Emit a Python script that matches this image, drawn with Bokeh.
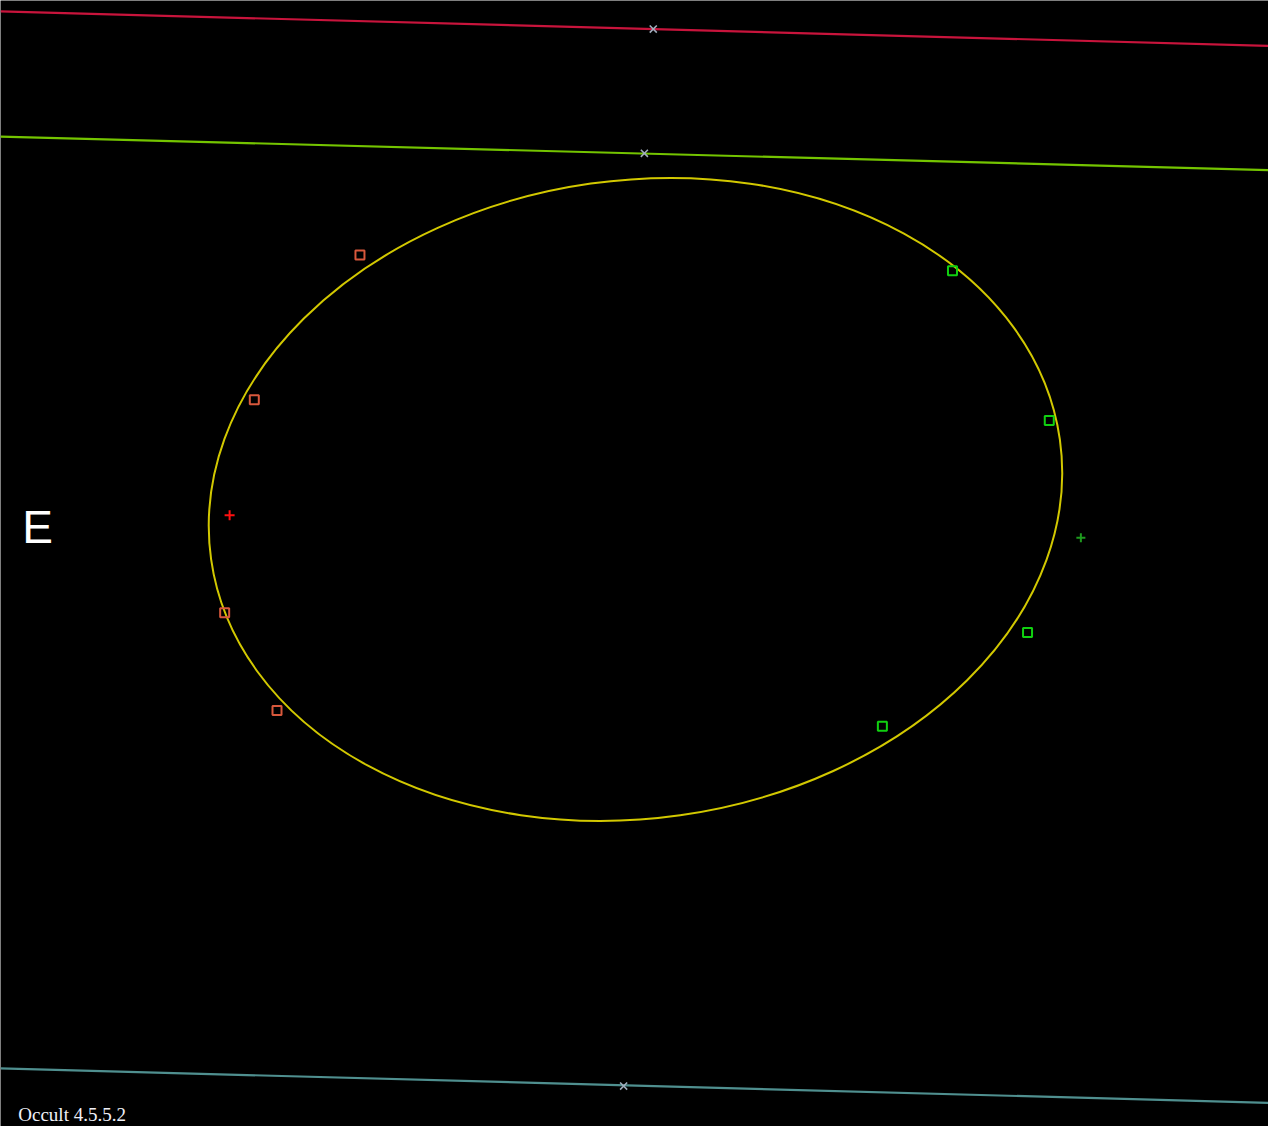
from bokeh.plotting import figure
from bokeh.models import Range1d
from bokeh.core.properties import value
from bokeh.embed import file_html
from bokeh.resources import INLINE

# Chart coordinates (reference pixel space, y measured downward from top)
W = 1284
H = 1142
line_x = [0, 1284]
crimson_y = [11, 46]
green_y = [138, 172]
teal_y = [1083, 1118]

cross_x = [661, 652, 631]
cross_y = [29, 155, 1101]

ellipse_cx = 643
ellipse_cy = 506
ellipse_w = 868
ellipse_h = 647
ellipse_angle_deg = 8.05

west_sq_x = [364, 257, 227, 280]
west_sq_y = [258, 405, 621, 720]
east_sq_x = [964, 1062, 1040, 893]
east_sq_y = [274, 426, 641, 736]

red_plus = (232, 522)
green_plus = (1094, 545)

label_e = "E"
label_e_pos = (22, 534)
footer = "Occult 4.5.5.2"
footer_pos = (18, 1130)


def fy(vals):
    return [H - v for v in vals]


p = figure(width=1268, height=1126, output_backend="svg", toolbar_location=None,
           x_range=Range1d(0, W), y_range=Range1d(0, H),
           x_axis_location=None, y_axis_location=None, min_border=0)
p.background_fill_color = "black"
p.border_fill_color = "black"
p.outline_line_color = None
p.grid.visible = False

p.line(line_x, fy(crimson_y), line_color="#c8143c", line_width=2.2)
p.line(line_x, fy(green_y), line_color="#74c400", line_width=2.2)
p.line(line_x, fy(teal_y), line_color="#4f8f8f", line_width=2.2)

p.scatter(cross_x, fy(cross_y), marker="x", size=10, line_color="#a0acbc", line_width=1.6)

p.ellipse(x=[ellipse_cx], y=fy([ellipse_cy]), width=[ellipse_w], height=[ellipse_h],
          angle=ellipse_angle_deg, angle_units="deg", fill_alpha=0,
          line_color="#d2c800", line_width=2)

p.scatter(west_sq_x, fy(west_sq_y), marker="square", size=9, fill_alpha=0,
          line_color="#d8583c", line_width=2)
p.scatter(east_sq_x, fy(east_sq_y), marker="square", size=9, fill_alpha=0,
          line_color="#10d010", line_width=2)

p.scatter([red_plus[0]], fy([red_plus[1]]), marker="cross", size=10,
          line_color="#ff1010", line_width=2)
p.scatter([green_plus[0]], fy([green_plus[1]]), marker="cross", size=9,
          line_color="#1e9a1e", line_width=2)

p.text([label_e_pos[0]], fy([label_e_pos[1]]), text=[label_e], text_color="white",
       text_font=value("Liberation Sans"), text_font_size="46px",
       text_baseline="alphabetic", text_align="left")
p.text([footer_pos[0]], fy([footer_pos[1]]), text=[footer], text_color="#f0f0f8",
       text_font=value("Liberation Serif"), text_font_size="19px",
       text_baseline="alphabetic", text_align="left")

open("out.html", "w").write(file_html(p, INLINE))
